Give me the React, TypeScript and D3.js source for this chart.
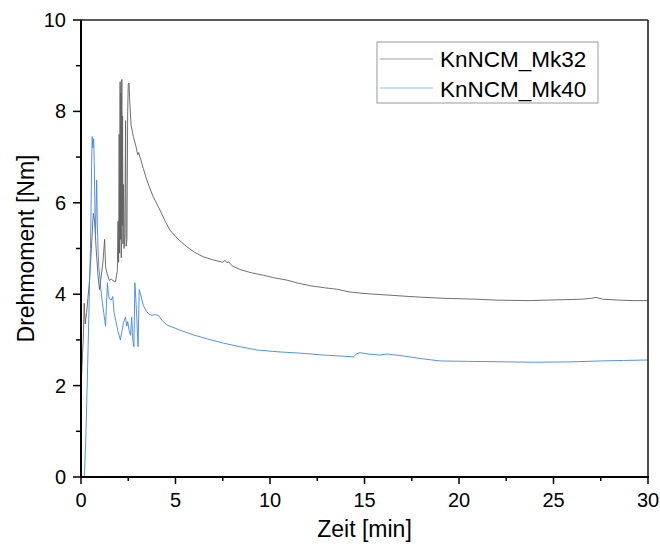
import React from "react";
import * as d3 from "d3";

const seriesNames = ["KnNCM_Mk32", "KnNCM_Mk40"];
const xTicks = [0, 5, 10, 15, 20, 25, 30];
const yTicks = [0, 2, 4, 6, 8, 10];

// KnNCM_Mk32: [Zeit (min), Drehmoment (Nm)]
const mk32: [number, number][] = [
  [0.03, 2.2], [0.08, 2.7], [0.12, 3.0], [0.17, 3.8], [0.22, 3.35], [0.3, 3.6],
  [0.45, 4.3], [0.55, 5.0], [0.65, 5.77], [0.72, 5.6], [0.8, 5.0], [0.9, 4.4],
  [0.98, 4.1], [1.07, 4.4], [1.16, 4.7], [1.25, 5.2], [1.3, 4.6], [1.38, 4.45],
  [1.5, 4.3], [1.6, 4.33], [1.69, 4.3], [1.82, 4.27], [1.92, 4.5],
  [1.96, 5.6], [1.99, 4.7], [2.02, 7.5], [2.04, 4.9], [2.07, 8.65], [2.09, 5.2],
  [2.11, 8.4], [2.13, 4.8], [2.16, 8.7], [2.18, 5.5], [2.2, 7.9], [2.22, 5.1],
  [2.25, 6.4], [2.28, 5.0], [2.32, 5.3], [2.36, 7.8], [2.39, 5.05], [2.43, 5.2],
  [2.47, 8.0], [2.5, 8.6], [2.54, 8.62], [2.58, 8.2], [2.65, 7.7], [2.77, 7.45],
  [2.9, 7.25], [3.0, 7.05], [3.05, 7.1], [3.12, 7.0], [3.3, 6.75], [3.48, 6.5],
  [3.8, 6.15], [4.18, 5.84], [4.45, 5.6], [4.71, 5.4], [5.1, 5.22], [5.59, 5.04],
  [6.0, 4.92], [6.46, 4.82], [7.0, 4.75], [7.5, 4.7], [7.62, 4.74], [7.72, 4.69],
  [7.8, 4.71], [8.0, 4.62], [8.41, 4.54], [9.0, 4.47], [9.6, 4.42], [10.2, 4.36],
  [10.88, 4.31], [11.5, 4.24], [12.2, 4.18], [12.9, 4.14], [13.53, 4.11],
  [14.2, 4.05], [14.87, 4.02], [15.5, 4.0], [16.3, 3.98], [17.35, 3.95],
  [18.2, 3.93], [19.2, 3.91], [20.95, 3.89], [22.0, 3.87], [23.65, 3.86],
  [24.5, 3.87], [25.5, 3.88], [26.5, 3.89], [27.0, 3.91], [27.25, 3.93],
  [27.6, 3.89], [28.5, 3.87], [29.2, 3.86], [30, 3.86],
];

// KnNCM_Mk40: [Zeit (min), Drehmoment (Nm)]
const mk40: [number, number][] = [
  [0.18, 0.0], [0.25, 0.8], [0.32, 1.9], [0.38, 2.9], [0.42, 3.6], [0.46, 4.4],
  [0.5, 5.0], [0.53, 5.8], [0.56, 6.8], [0.59, 7.45], [0.63, 7.2], [0.67, 7.4],
  [0.7, 6.9], [0.74, 5.8], [0.77, 5.3], [0.8, 5.9], [0.83, 6.5], [0.86, 5.6],
  [0.9, 5.0], [0.94, 4.6], [0.99, 4.4], [1.05, 4.1], [1.12, 3.85], [1.2, 3.6],
  [1.3, 3.3], [1.35, 3.8], [1.4, 4.25], [1.45, 4.0], [1.5, 3.9], [1.6, 3.87],
  [1.68, 3.95], [1.75, 3.6], [1.85, 3.4], [1.95, 3.2], [2.08, 3.0], [2.15, 3.15],
  [2.25, 3.38], [2.35, 3.5], [2.42, 3.3], [2.47, 3.4], [2.55, 3.2], [2.62, 3.1],
  [2.68, 3.5], [2.74, 3.0], [2.8, 2.85], [2.85, 4.25], [2.9, 3.9], [2.95, 3.5],
  [3.02, 2.85], [3.08, 4.1], [3.15, 4.0], [3.3, 3.75], [3.48, 3.62], [3.6, 3.56],
  [3.74, 3.54], [3.9, 3.55], [4.09, 3.54], [4.3, 3.42], [4.53, 3.33],
  [5.2, 3.22], [5.94, 3.11], [6.7, 3.02], [7.53, 2.93], [8.41, 2.85], [9.3, 2.78],
  [10.4, 2.74], [11.59, 2.71], [12.8, 2.67], [14.0, 2.64], [14.41, 2.63],
  [14.6, 2.7], [14.76, 2.72], [15.2, 2.69], [15.82, 2.67], [16.2, 2.69],
  [17.04, 2.65], [18.0, 2.59], [19.0, 2.54], [20.5, 2.53], [22.52, 2.52],
  [24.0, 2.51], [26.03, 2.52], [27.5, 2.54], [28.7, 2.55], [30, 2.56],
];

const W = 660;
const H = 549;
const left = 81;
const right = 648;
const top = 20;
const bottom = 477;

export default function App() {
  const x = d3.scaleLinear().domain([0, 30]).range([left, right]);
  const y = d3.scaleLinear().domain([0, 10]).range([bottom, top]);
  const line = d3
    .line<[number, number]>()
    .x((d) => x(d[0]))
    .y((d) => y(d[1]));

  const xMinor = d3.range(0, 30.01, 2.5).filter((v) => v % 5 !== 0);
  const yMinor = d3.range(1, 10, 2);
  const font = "Arial, 'Liberation Sans', Helvetica, sans-serif";

  return (
    <svg
      width={W}
      height={H}
      style={{ position: "absolute", left: 0, top: 0, background: "#fff" }}
      fontFamily={font}
    >
      <rect x={0} y={0} width={W} height={H} fill="#fff" />
      <path d={line(mk32) ?? ""} fill="none" stroke="#5f5f5f" strokeWidth={0.9} />
      <path d={line(mk40) ?? ""} fill="none" stroke="#3f86e6" strokeWidth={0.9} />

      {/* frame */}
      <line x1={left} x2={right} y1={top} y2={top} stroke="#222" strokeWidth={1.6} />
      <line x1={right} x2={right} y1={top} y2={bottom} stroke="#222" strokeWidth={1.6} />
      <line x1={left} x2={left} y1={top} y2={bottom + 1} stroke="#000" strokeWidth={2} />
      <line x1={left - 1} x2={right + 1} y1={bottom} y2={bottom} stroke="#000" strokeWidth={2} />

      {/* x ticks */}
      {xTicks.map((t) => (
        <g key={"xt" + t}>
          <line x1={x(t)} x2={x(t)} y1={bottom} y2={bottom + 7} stroke="#000" strokeWidth={1.5} />
          <text x={x(t)} y={507} fontSize={20} textAnchor="middle" fill="#000">
            {t}
          </text>
        </g>
      ))}
      {xMinor.map((t) => (
        <line key={"xm" + t} x1={x(t)} x2={x(t)} y1={bottom} y2={bottom + 4} stroke="#000" strokeWidth={1.5} />
      ))}

      {/* y ticks */}
      {yTicks.map((t) => (
        <g key={"yt" + t}>
          <line x1={left - 8} x2={left} y1={y(t)} y2={y(t)} stroke="#000" strokeWidth={1.5} />
          <text x={66} y={y(t) + 7} fontSize={20} textAnchor="end" fill="#000">
            {t}
          </text>
        </g>
      ))}
      {yMinor.map((t) => (
        <line key={"ym" + t} x1={left - 5} x2={left} y1={y(t)} y2={y(t)} stroke="#000" strokeWidth={1.5} />
      ))}

      {/* axis titles */}
      <text x={(left + right) / 2} y={537} fontSize={23} textAnchor="middle" fill="#000">
        Zeit [min]
      </text>
      <text
        transform={`translate(34, ${(top + bottom) / 2}) rotate(-90)`}
        fontSize={23}
        textAnchor="middle"
        fill="#000"
      >
        Drehmoment [Nm]
      </text>

      {/* legend */}
      <rect x={377} y={42} width={221} height={61} fill="#fff" stroke="#9a9a9a" strokeWidth={1} />
      <line x1={380} x2={433} y1={59} y2={59} stroke="#9a9a9a" strokeWidth={1} />
      <line x1={380} x2={433} y1={88} y2={88} stroke="#8ab8f0" strokeWidth={1} />
      <text x={440} y={67} fontSize={22.5} fill="#000">
        {seriesNames[0]}
      </text>
      <text x={440} y={96.5} fontSize={22.5} fill="#000">
        {seriesNames[1]}
      </text>
    </svg>
  );
}
